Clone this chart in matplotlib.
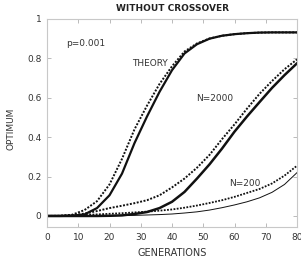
import numpy as np
import matplotlib
matplotlib.use("Agg")
import matplotlib.pyplot as plt

plt.rcParams['font.family'] = ['Liberation Sans Narrow', 'DejaVu Sans']

# generations sampled every 4 steps
generations = [0, 4, 8, 12, 16, 20, 24, 28, 32, 36, 40,
               44, 48, 52, 56, 60, 64, 68, 72, 76, 80]

theory_solid = [0.0, 0.0, 0.001, 0.008, 0.04, 0.105, 0.215, 0.37, 0.505, 0.63, 0.74,
                0.825, 0.872, 0.9, 0.915, 0.923, 0.928, 0.931, 0.932, 0.932, 0.932]
theory_dotted = [0.0, 0.001, 0.006, 0.03, 0.075, 0.16, 0.29, 0.44, 0.56, 0.67, 0.76,
                 0.835, 0.876, 0.901, 0.915, 0.923, 0.928, 0.931, 0.932, 0.932, 0.932]

n2000_dotted = [0.0, 0.0, 0.004, 0.012, 0.025, 0.04, 0.052, 0.065, 0.08, 0.105, 0.145,
                0.19, 0.245, 0.31, 0.39, 0.465, 0.545, 0.62, 0.685, 0.745, 0.795]
n2000_solid = [0.0, 0.0, 0.0, 0.0, 0.0, 0.001, 0.003, 0.01, 0.02, 0.04, 0.072,
               0.122, 0.19, 0.262, 0.342, 0.428, 0.505, 0.578, 0.65, 0.715, 0.775]

n200_dotted = [0.0, 0.0, 0.002, 0.005, 0.008, 0.011, 0.014, 0.018, 0.022, 0.027, 0.033,
               0.042, 0.053, 0.066, 0.08, 0.097, 0.117, 0.137, 0.165, 0.205, 0.255]
n200_solid = [0.0, 0.0, 0.001, 0.001, 0.001, 0.001, 0.002, 0.003, 0.005, 0.007, 0.01,
              0.015, 0.021, 0.03, 0.042, 0.056, 0.072, 0.092, 0.12, 0.16, 0.22]

x_ticks = [0, 10, 20, 30, 40, 50, 60, 70, 80]
y_ticks = [0, 0.2, 0.4, 0.6, 0.8, 1.0]
y_labels = ['0', '0.2', '0.4', '0.6', '0.8', '1']

fig = plt.figure(figsize=(3.01, 2.68), dpi=100)
ax = fig.add_axes([47 / 301, 41 / 268, 250 / 301, 208 / 268])

ink = '#111111'
dots = (0, (1, 0.8))

ax.plot(generations, theory_dotted, color=ink, lw=1.4, linestyle=dots)
ax.plot(generations, theory_solid, color=ink, lw=1.6)
ax.plot(generations, n2000_dotted, color=ink, lw=1.4, linestyle=dots)
ax.plot(generations, n2000_solid, color=ink, lw=1.8)
ax.plot(generations, n200_dotted, color=ink, lw=1.3, linestyle=dots)
ax.plot(generations, n200_solid, color=ink, lw=0.7)

ax.set_xlim(0, 80)
ax.set_ylim(-0.056, 1.0)
ax.set_xticks(x_ticks)
ax.set_yticks(y_ticks)
ax.set_yticklabels(y_labels)

for s in ax.spines.values():
    s.set_color('#c8c8c8')
    s.set_linewidth(0.8)
ax.tick_params(direction='in', length=3, width=0.6, color='#b0b0b0',
               labelsize=6.5, labelcolor='#333333', pad=4,
               top=True, right=True)

ax.text(33, 0.773, 'THEORY', fontsize=6.5, color='#333333', ha='center', va='center')
ax.text(53.8, 0.596, 'N=2000', fontsize=6.5, color='#333333', ha='center', va='center')
ax.text(63.4, 0.167, 'N=200', fontsize=6.5, color='#333333', ha='center', va='center')
ax.text(12.5, 0.874, 'p=0.001', fontsize=6.5, color='#333333', ha='center', va='center')

ax.set_title('WITHOUT CROSSOVER', fontsize=6.5, fontweight='bold', color='#222222', pad=6)
ax.set_xlabel('GENERATIONS', fontsize=7, color='#333333')
ax.set_ylabel('OPTIMUM', fontsize=6.5, color='#333333')
ax.xaxis.set_label_coords(0.5, -0.1)
ax.yaxis.set_label_coords(-0.125, 0.47)

fig.savefig('out.png', dpi=100)
